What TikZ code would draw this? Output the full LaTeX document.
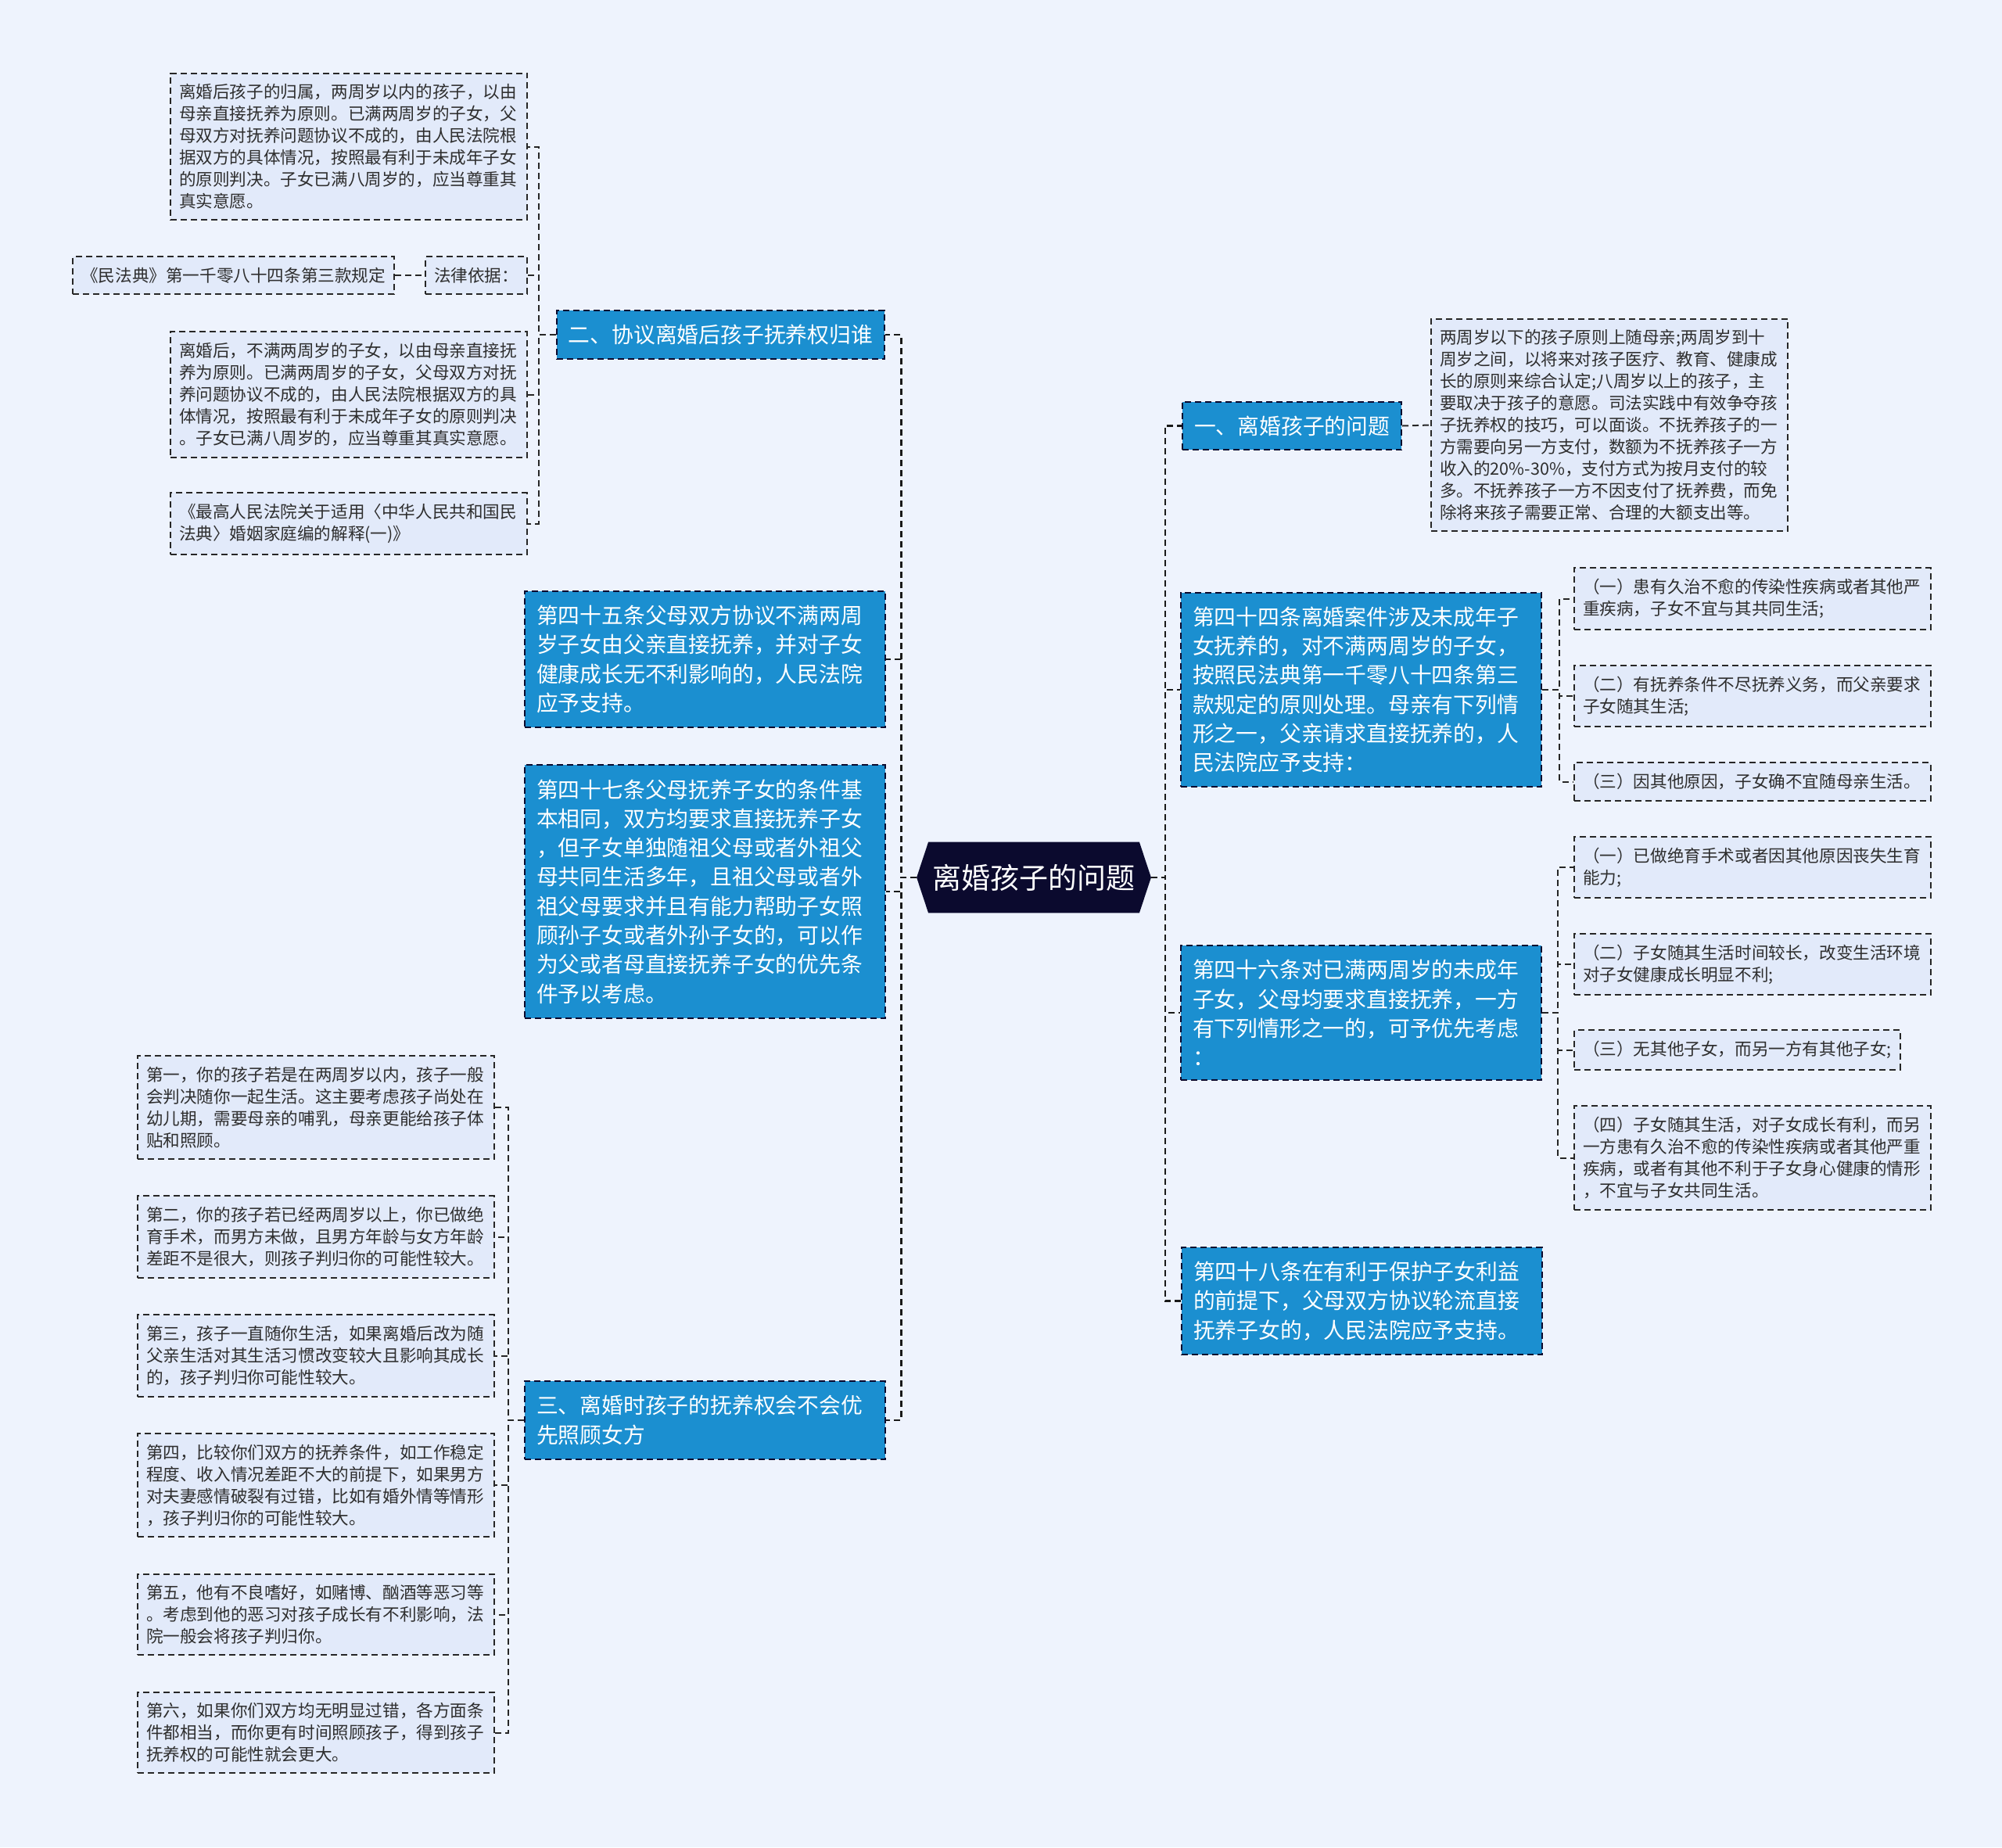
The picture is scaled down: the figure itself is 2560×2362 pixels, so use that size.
\documentclass[tikz,border=0pt]{standalone}
\usepackage{fontspec}
\newfontfamily\cjk{Noto Sans CJK SC}
\usetikzlibrary{backgrounds}
\definecolor{bgcol}{HTML}{EEF3FD}
\definecolor{leafcol}{HTML}{E2EAFA}
\definecolor{bluecol}{HTML}{1B8FD0}
\definecolor{navycol}{HTML}{0B0A2E}
\definecolor{linecol}{HTML}{262626}
\definecolor{inkcol}{HTML}{2E2E2E}

\begin{document}
\begin{tikzpicture}[x=0.5pt,y=-0.5pt,
    leaf/.style={draw=linecol, dash pattern=on 4pt off 2.5pt, line width=1pt, fill=leafcol, text=inkcol, align=left, inner xsep=5.5pt, inner ysep=6.9pt, font=\cjk\fontsize{10.8pt}{14pt}\selectfont},
    wide/.style={text width=217pt},
    topic/.style={draw=navycol, dash pattern=on 4pt off 2.5pt, line width=1pt, fill=bluecol, text=white, align=left, inner xsep=7.5pt, inner ysep=9pt, font=\cjk\fontsize{13.9pt}{18.65pt}\selectfont},
    long/.style={text width=215.5pt},
    rootbox/.style={text=white, minimum width=149.5pt, minimum height=45pt, inner sep=0pt, font=\cjk\fontsize{18.5pt}{22pt}\selectfont},
    link/.style={draw=linecol, dash pattern=on 4pt off 2.5pt, line width=1pt},
    trunk/.style={draw=black!90, dash pattern=on 4pt off 2.5pt, line width=1.4pt}]
    \begin{scope}[on background layer]
        \fill[bgcol] (0,0) rectangle (2560,2362);
    \end{scope}
    \useasboundingbox (0,0) rectangle (2560,2362);

    \node[rootbox] (root) at (1322,1122) {离婚孩子的问题};
    \begin{scope}[on background layer]
        \fill[navycol] (root.west) -- ([xshift=7.5pt]root.north west) -- ([xshift=-7.5pt]root.north east) -- (root.east) -- ([xshift=-7.5pt]root.south east) -- ([xshift=7.5pt]root.south west) -- cycle;
    \end{scope}

    \node[topic, anchor=east] (t2) at (1132,428) {二、协议离婚后孩子抚养权归谁};
    \node[topic, long, anchor=east] (t45) at (1133,843) {第四十五条父母双方协议不满两周\\岁子女由父亲直接抚养，并对子女\\健康成长无不利影响的，人民法院\\应予支持。};
    \node[topic, long, anchor=east] (t47) at (1133,1140) {第四十七条父母抚养子女的条件基\\本相同，双方均要求直接抚养子女\\，但子女单独随祖父母或者外祖父\\母共同生活多年，且祖父母或者外\\祖父母要求并且有能力帮助子女照\\顾孙子女或者外孙子女的，可以作\\为父或者母直接抚养子女的优先条\\件予以考虑。};
    \node[topic, long, anchor=east] (t3) at (1133,1816) {三、离婚时孩子的抚养权会不会优\\先照顾女方};

    \node[topic, anchor=west] (t1) at (1511,544.5) {一、离婚孩子的问题};
    \node[topic, long, anchor=west] (t44) at (1509,882) {第四十四条离婚案件涉及未成年子\\女抚养的，对不满两周岁的子女，\\按照民法典第一千零八十四条第三\\款规定的原则处理。母亲有下列情\\形之一，父亲请求直接抚养的，人\\民法院应予支持：};
    \node[topic, long, anchor=west] (t46) at (1509,1295) {第四十六条对已满两周岁的未成年\\子女，父母均要求直接抚养，一方\\有下列情形之一的，可予优先考虑\\：};
    \node[topic, long, anchor=west] (t48) at (1510,1663.5) {第四十八条在有利于保护子女利益\\的前提下，父母双方协议轮流直接\\抚养子女的，人民法院应予支持。};

    \node[leaf, wide, anchor=east] (t2a) at (675,187.5) {离婚后孩子的归属，两周岁以内的孩子，以由\\母亲直接抚养为原则。已满两周岁的子女，父\\母双方对抚养问题协议不成的，由人民法院根\\据双方的具体情况，按照最有利于未成年子女\\的原则判决。子女已满八周岁的，应当尊重其\\真实意愿。};
    \node[leaf, anchor=east] (t2b) at (675,352) {法律依据：};
    \node[leaf, anchor=east] (t2c) at (505,352) {《民法典》第一千零八十四条第三款规定};
    \node[leaf, wide, anchor=east] (t2d) at (675,504.5) {离婚后，不满两周岁的子女，以由母亲直接抚\\养为原则。已满两周岁的子女，父母双方对抚\\养问题协议不成的，由人民法院根据双方的具\\体情况，按照最有利于未成年子女的原则判决\\。子女已满八周岁的，应当尊重其真实意愿。};
    \node[leaf, wide, anchor=east] (t2e) at (675,669.5) {《最高人民法院关于适用〈中华人民共和国民\\法典〉婚姻家庭编的解释(一)》};

    \node[leaf, wide, anchor=east] (t3a) at (633,1416) {第一，你的孩子若是在两周岁以内，孩子一般\\会判决随你一起生活。这主要考虑孩子尚处在\\幼儿期，需要母亲的哺乳，母亲更能给孩子体\\贴和照顾。};
    \node[leaf, wide, anchor=east] (t3b) at (633,1581.5) {第二，你的孩子若已经两周岁以上，你已做绝\\育手术，而男方未做，且男方年龄与女方年龄\\差距不是很大，则孩子判归你的可能性较大。};
    \node[leaf, wide, anchor=east] (t3c) at (633,1733.5) {第三，孩子一直随你生活，如果离婚后改为随\\父亲生活对其生活习惯改变较大且影响其成长\\的，孩子判归你可能性较大。};
    \node[leaf, wide, anchor=east] (t3d) at (633,1899) {第四，比较你们双方的抚养条件，如工作稳定\\程度、收入情况差距不大的前提下，如果男方\\对夫妻感情破裂有过错，比如有婚外情等情形\\，孩子判归你的可能性较大。};
    \node[leaf, wide, anchor=east] (t3e) at (633,2064.5) {第五，他有不良嗜好，如赌博、酗酒等恶习等\\。考虑到他的恶习对孩子成长有不利影响，法\\院一般会将孩子判归你。};
    \node[leaf, wide, anchor=east] (t3f) at (633,2215.5) {第六，如果你们双方均无明显过错，各方面条\\件都相当，而你更有时间照顾孩子，得到孩子\\抚养权的可能性就会更大。};

    \node[leaf, wide, anchor=west] (t1a) at (1829,543.5) {两周岁以下的孩子原则上随母亲;两周岁到十\\周岁之间，以将来对孩子医疗、教育、健康成\\长的原则来综合认定;八周岁以上的孩子，主\\要取决于孩子的意愿。司法实践中有效争夺孩\\子抚养权的技巧，可以面谈。不抚养孩子的一\\方需要向另一方支付，数额为不抚养孩子一方\\收入的20\%-30\%，支付方式为按月支付的较\\多。不抚养孩子一方不因支付了抚养费，而免\\除将来孩子需要正常、合理的大额支出等。};

    \node[leaf, wide, anchor=west] (t44a) at (2012,765.5) {（一）患有久治不愈的传染性疾病或者其他严\\重疾病，子女不宜与其共同生活;};
    \node[leaf, wide, anchor=west] (t44b) at (2012,890) {（二）有抚养条件不尽抚养义务，而父亲要求\\子女随其生活;};
    \node[leaf, wide, anchor=west] (t44c) at (2012,999.5) {（三）因其他原因，子女确不宜随母亲生活。};

    \node[leaf, wide, anchor=west] (t46a) at (2012,1109) {（一）已做绝育手术或者因其他原因丧失生育\\能力;};
    \node[leaf, wide, anchor=west] (t46b) at (2012,1233) {（二）子女随其生活时间较长，改变生活环境\\对子女健康成长明显不利;};
    \node[leaf, anchor=west] (t46c) at (2012,1342.5) {（三）无其他子女，而另一方有其他子女;};
    \node[leaf, wide, anchor=west] (t46d) at (2012,1480.5) {（四）子女随其生活，对子女成长有利，而另\\一方患有久治不愈的传染性疾病或者其他严重\\疾病，或者有其他不利于子女身心健康的情形\\，不宜与子女共同生活。};

    \foreach \n in {t2,t45,t47,t3}
        \draw[trunk] (root.west) -- ++(-10pt,0) |- (\n.east);
    \foreach \n in {t1,t44,t46,t48}
        \draw[trunk] (root.east) -- ++(9pt,0) |- (\n.west);

    \foreach \n in {t2a,t2b,t2d,t2e}
        \draw[link] (t2.west) -- ++(-11pt,0) |- (\n.east);
    \draw[link] (t2c.east) -- (t2b.west);
    \foreach \n in {t3a,t3b,t3c,t3d,t3e,t3f}
        \draw[link] (t3.west) -- ++(-10pt,0) |- (\n.east);
    \draw[link] (t1.east) -- (t1a.west);
    \foreach \n in {t44a,t44b,t44c}
        \draw[link] (t44.east) -- ++(11pt,0) |- (\n.west);
    \foreach \n in {t46a,t46b,t46c,t46d}
        \draw[link] (t46.east) -- ++(10pt,0) |- (\n.west);
\end{tikzpicture}
\end{document}
